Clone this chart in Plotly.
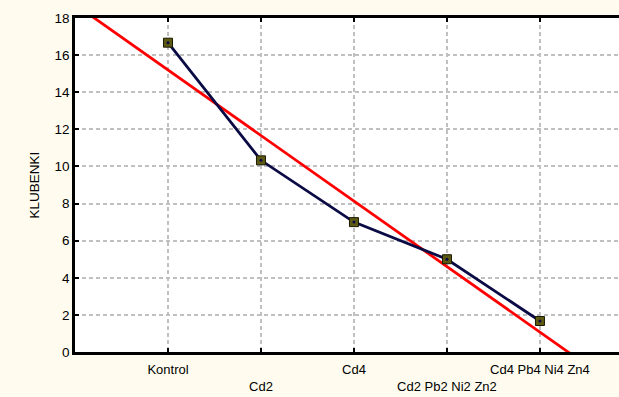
import numpy as np
import plotly.graph_objects as go

categories = ["Kontrol", "Cd2", "Cd4", "Cd2 Pb2 Ni2 Zn2", "Cd4 Pb4 Ni4 Zn4"]
klubenki = [16.67, 10.33, 7.0, 5.0, 1.67]
y_ticks = [0, 2, 4, 6, 8, 10, 12, 14, 16, 18]

xi = np.arange(len(categories))
slope, intercept = np.polyfit(xi, klubenki, 1)
x_range = [-1.0, 4.85]
fit_x = np.array(x_range)
fit_y = intercept + slope * fit_x

ticktext = [c if i % 2 == 0 else "<br>" + c for i, c in enumerate(categories)]

fig = go.Figure()
fig.add_trace(go.Scatter(x=fit_x, y=fit_y, mode="lines",
                         line=dict(color="#FF0000", width=2.8),
                         hoverinfo="skip", showlegend=False, cliponaxis=True))
fig.add_trace(go.Scatter(x=xi, y=klubenki, mode="lines+markers",
                         line=dict(color="#0A0A45", width=2.8),
                         marker=dict(symbol="square", size=9, color="#5C5A12",
                                     line=dict(color="#1A1A00", width=1)),
                         showlegend=False))
fig.add_trace(go.Scatter(x=xi, y=klubenki, mode="markers",
                         marker=dict(symbol="circle", size=3, color="#0A0A45"),
                         hoverinfo="skip", showlegend=False))

font = dict(family="Liberation Sans, Arial, sans-serif", size=13.5, color="#000000")
xfont = dict(family="Liberation Sans, Arial, sans-serif", size=13, color="#000000")

fig.update_layout(
    width=619, height=397,
    margin=dict(l=75, r=0, t=18, b=45, autoexpand=False),
    paper_bgcolor="#FFFCEF",
    plot_bgcolor="#FFFFFF",
    font=font,
    xaxis=dict(range=x_range, tickmode="array", tickvals=list(xi), ticktext=ticktext,
               tickangle=0, automargin=False, ticklabelstandoff=4,
               showgrid=True, gridcolor="#C0C0C0", griddash="4px,3px", gridwidth=2,
               showline=True, linecolor="#000000", linewidth=2.5, mirror="ticks",
               ticks="inside", ticklen=4, tickwidth=2, tickcolor="#000000",
               zeroline=False, tickfont=xfont),
    yaxis=dict(range=[0, 18], tickmode="array", tickvals=y_ticks, automargin=False,
               showgrid=True, gridcolor="#C0C0C0", griddash="4px,3px", gridwidth=2,
               showline=True, linecolor="#000000", linewidth=2.5,
               ticks="inside", ticklen=4, tickwidth=2, tickcolor="#000000",
               zeroline=False, tickfont=font,
               title=dict(text="KLUBENKI", font=font, standoff=12)),
)

fig.write_html("out.html", config={"displayModeBar": False},
               post_script="document.body.style.margin='0';")
